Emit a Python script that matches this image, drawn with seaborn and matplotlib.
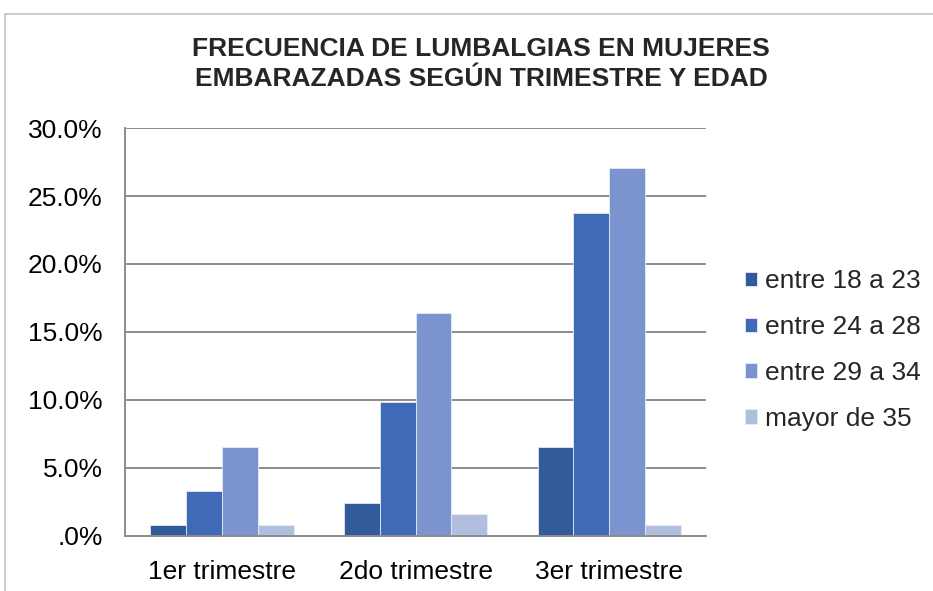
import numpy as np
import pandas as pd
import matplotlib
matplotlib.use('Agg')
import matplotlib.pyplot as plt
from matplotlib.lines import Line2D
from matplotlib.ticker import FuncFormatter
import seaborn as sns

# Data (percent of cases)
trimestres = ['1er trimestre', '2do trimestre', '3er trimestre']
edades = ['entre 18 a 23', 'entre 24 a 28', 'entre 29 a 34', 'mayor de 35']
entre_18_23 = [0.82, 2.46, 6.56]
entre_24_28 = [3.28, 9.84, 23.77]
entre_29_34 = [6.56, 16.39, 27.05]
mayor_35 = [0.82, 1.64, 0.82]
colores = ['#335A9B', '#3F6AB7', '#7B93CF', '#B2BEDF']

title = 'FRECUENCIA DE LUMBALGIAS EN MUJERES\nEMBARAZADAS SEGÚN TRIMESTRE Y EDAD'

# Long format table for seaborn
series = [entre_18_23, entre_24_28, entre_29_34, mayor_35]
rows = []
for edad, vals in zip(edades, series):
    for t, v in zip(trimestres, vals):
        rows.append({'trimestre': t, 'edad': edad, 'valor': v})
df = pd.DataFrame(rows)

sns.set_theme(style='white')
plt.rcParams['font.family'] = ['Liberation Sans', 'DejaVu Sans']

fig = plt.figure(figsize=(9.33, 5.91), dpi=100)
ax = fig.add_axes([0.134, 0.0931, 0.6227, 0.6903])

sns.barplot(data=df, x='trimestre', y='valor', hue='edad', order=trimestres,
            hue_order=edades, palette=colores, width=0.74, saturation=1,
            edgecolor='#e6eaf4', linewidth=0.6, ax=ax, legend=True)

ax.set_ylim(0, 30)
ax.set_yticks(np.arange(0, 31, 5))
ax.yaxis.set_major_formatter(FuncFormatter(lambda v, p: '.0%' if v == 0 else f'{v:.1f}%'))
ax.grid(axis='y', color='#8c8c8c', linewidth=1.4)
ax.set_axisbelow(True)
for s in ['top', 'right']:
    ax.spines[s].set_visible(False)
for s in ['left', 'bottom']:
    ax.spines[s].set_color('#8c8c8c')
    ax.spines[s].set_linewidth(1.4)
ax.set_xlabel('')
ax.set_ylabel('')
ax.tick_params(axis='y', length=0, pad=16, labelsize=19, labelcolor='black')
ax.tick_params(axis='x', length=0, pad=17, labelsize=19, labelcolor='black')

# Legend on the right
handles, labels = ax.get_legend_handles_labels()
ax.get_legend().remove()
fig.legend(handles, labels, loc='center left', bbox_to_anchor=(745 / 933, 1 - 350 / 591),
           frameon=False, fontsize=19, handlelength=0.45, handleheight=0.45,
           handletextpad=0.3, labelspacing=0.83, borderpad=0, borderaxespad=0)

fig.text(481 / 933, 1 - 64 / 591, title, ha='center', va='center',
         fontsize=19, fontweight='bold', linespacing=1.32)

# Chart area border (top and left visible)
fig.add_artist(Line2D([5 / 933, 1], [1 - 14 / 591, 1 - 14 / 591], transform=fig.transFigure,
                      color='#c4c4c4', linewidth=1.2))
fig.add_artist(Line2D([5 / 933, 5 / 933], [0, 1 - 14 / 591], transform=fig.transFigure,
                      color='#c4c4c4', linewidth=1.2))

fig.savefig('out.png', dpi=100, facecolor='white')
